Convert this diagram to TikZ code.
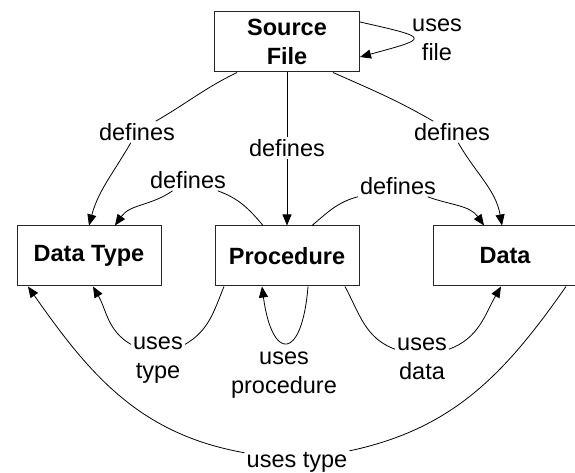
\documentclass[tikz,border=0pt]{standalone}
\usepackage{fontspec}
\setmainfont{Liberation Sans}
\usetikzlibrary{arrows.meta}
\begin{document}
\begin{tikzpicture}[x=1pt,y=1pt,
  every node/.style={font=\fontsize{23.5}{28.5}\selectfont},
  entity/.style={draw=black!85,line width=1pt,minimum width=144pt,minimum height=60pt,align=center,font=\fontsize{23.5}{28.5}\selectfont\bfseries,inner sep=0pt},
  lbl/.style={align=center,inner sep=2pt},
  conn/.style={line width=0.8pt,black},
  arr/.style={conn,-{Triangle[length=11pt,width=9pt]}}]
\useasboundingbox (0,0) rectangle (575,473);
% entities
\node[entity,minimum width=145pt] (sf) at (287,431) {Source\\File};
\node[entity] (dt) at (89,217) {Data Type};
\node[entity] (pr) at (287,217) {Procedure};
\node[entity] (da) at (505,217) {Data};
% labels
\node[lbl] (luf) at (437,433) {uses\\file};
\node[lbl] (ld1) at (137,341) {defines};
\node[lbl] (ld2) at (287,325) {defines};
\node[lbl] (ld3) at (452,341) {defines};
\node[lbl] (ld4) at (188,293) {defines};
\node[lbl] (ld5) at (398,287) {defines};
\node[lbl] (lut1) at (158,113) {uses\\type};
\node[lbl] (lup) at (284,98) {uses\\procedure};
\node[lbl] (lud) at (422,114) {uses\\data};
\node[lbl] (lut2) at (297,11) {uses type};
% source file self loop
\draw[arr] ([yshift=20pt]sf.east) .. controls +(71,-16) and +(70,19) .. ([yshift=-15pt]sf.east);
% source file defines
\draw[conn] ([xshift=-50pt]sf.south) to[out=206,in=30] (ld1);
\draw[arr] (ld1) to[out=240,in=75] ([xshift=0pt]dt.north);
\draw[conn] (sf.south) -- (ld2);
\draw[arr] (ld2) -- (pr.north);
\draw[conn] ([xshift=46pt]sf.south) to[out=-24,in=150] (ld3);
\draw[arr] (ld3) to[out=-60,in=100] ([xshift=-3pt]da.north);
% procedure defines
\draw[conn] ([xshift=-24pt]pr.north) to[out=130,in=-20] (ld4);
\draw[arr] (ld4) to[out=215,in=55] ([xshift=26pt]dt.north);
\draw[conn] ([xshift=25pt]pr.north) to[out=40,in=195] (ld5);
\draw[arr] (ld5) to[out=-20,in=125] ([xshift=-21pt]da.north);
% uses
\draw[conn] ([xshift=-63pt]pr.south) to[out=-112,in=30] (lut1);
\draw[arr] (lut1) to[out=150,in=-60] ([xshift=4pt]dt.south);
\draw[arr] ([xshift=21pt]pr.south) .. controls +(-6,-75) and +(10,-75) .. ([xshift=-25pt]pr.south);
\draw[conn] ([xshift=58pt]pr.south) to[out=-62,in=160] (lud);
\draw[arr] (lud) to[out=20,in=-120] ([xshift=-4pt]da.south);
\draw[conn] ([xshift=61pt]da.south) to[out=-125,in=12] (lut2);
\draw[arr] (lut2) to[out=170,in=-55] ([xshift=-61pt]dt.south);
\end{tikzpicture}
\end{document}
